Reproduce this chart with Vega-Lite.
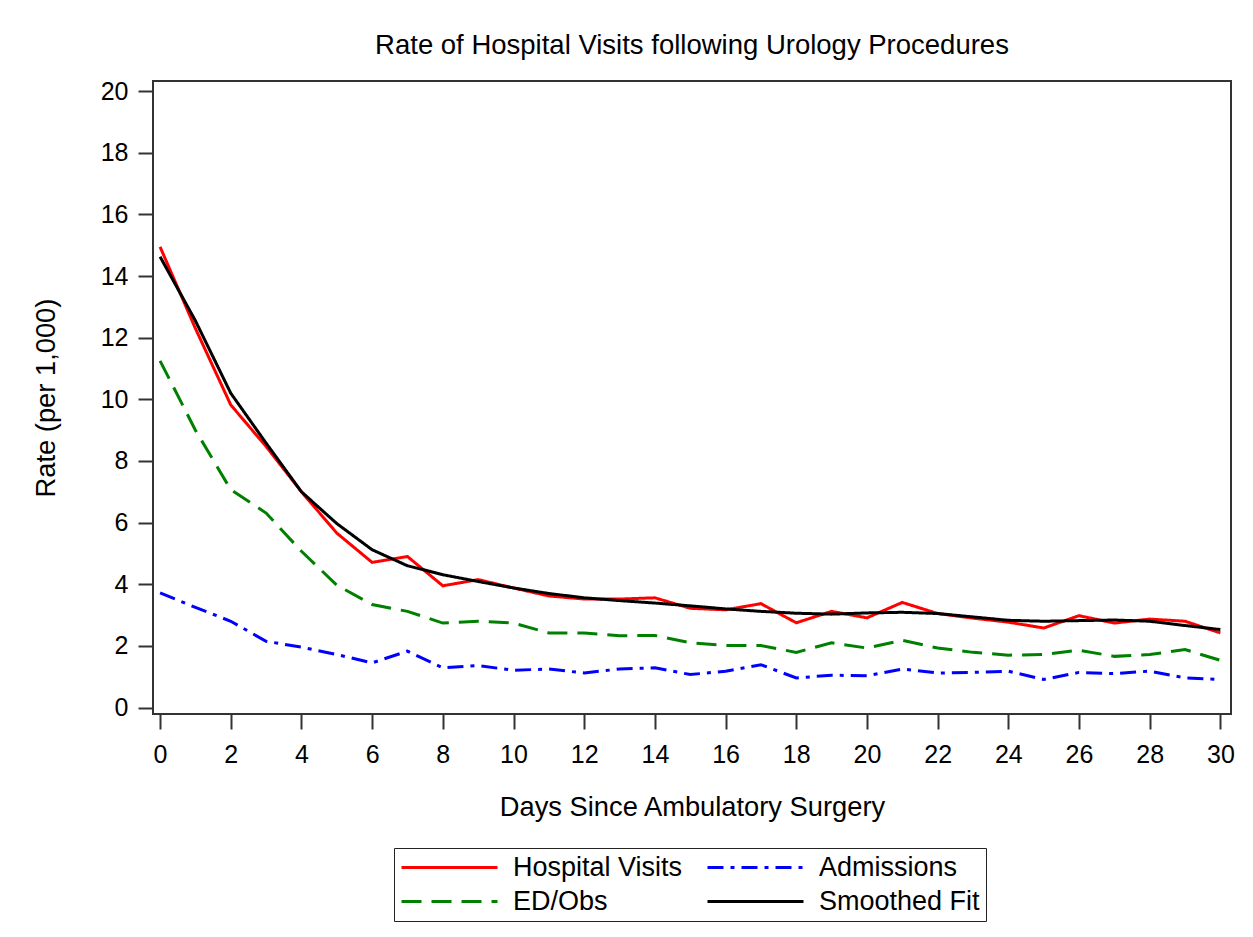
{
  "$schema": "https://vega.github.io/schema/vega-lite/v6.json",
  "width": 1078,
  "height": 633,
  "autosize": "none",
  "padding": {"left": 153, "top": 81, "right": 22, "bottom": 223},
  "background": "white",
  "title": {"text": "Rate of Hospital Visits following Urology Procedures", "fontSize": 27.5, "font": "Liberation Sans", "fontWeight": "normal", "color": "black", "offset": 20},
  "data": {"values": [
    {"day": 0, "Hospital Visits": 14.95, "ED/Obs": 11.25, "Admissions": 3.72, "Smoothed Fit": 14.63},
    {"day": 1, "Hospital Visits": 12.3, "ED/Obs": 9.0, "Admissions": 3.25, "Smoothed Fit": 12.55},
    {"day": 2, "Hospital Visits": 9.82, "ED/Obs": 7.07, "Admissions": 2.8, "Smoothed Fit": 10.2},
    {"day": 3, "Hospital Visits": 8.47, "ED/Obs": 6.31, "Admissions": 2.15, "Smoothed Fit": 8.58},
    {"day": 4, "Hospital Visits": 7.0, "ED/Obs": 5.07, "Admissions": 1.96, "Smoothed Fit": 7.0},
    {"day": 5, "Hospital Visits": 5.66, "ED/Obs": 3.97, "Admissions": 1.72, "Smoothed Fit": 5.97},
    {"day": 6, "Hospital Visits": 4.71, "ED/Obs": 3.34, "Admissions": 1.45, "Smoothed Fit": 5.12},
    {"day": 7, "Hospital Visits": 4.9, "ED/Obs": 3.12, "Admissions": 1.83, "Smoothed Fit": 4.6},
    {"day": 8, "Hospital Visits": 3.95, "ED/Obs": 2.74, "Admissions": 1.29, "Smoothed Fit": 4.31},
    {"day": 9, "Hospital Visits": 4.15, "ED/Obs": 2.8, "Admissions": 1.36, "Smoothed Fit": 4.09},
    {"day": 10, "Hospital Visits": 3.88, "ED/Obs": 2.74, "Admissions": 1.21, "Smoothed Fit": 3.88},
    {"day": 11, "Hospital Visits": 3.62, "ED/Obs": 2.42, "Admissions": 1.25, "Smoothed Fit": 3.7},
    {"day": 12, "Hospital Visits": 3.52, "ED/Obs": 2.42, "Admissions": 1.12, "Smoothed Fit": 3.56},
    {"day": 13, "Hospital Visits": 3.52, "ED/Obs": 2.33, "Admissions": 1.25, "Smoothed Fit": 3.47},
    {"day": 14, "Hospital Visits": 3.56, "ED/Obs": 2.34, "Admissions": 1.29, "Smoothed Fit": 3.39},
    {"day": 15, "Hospital Visits": 3.22, "ED/Obs": 2.1, "Admissions": 1.07, "Smoothed Fit": 3.3},
    {"day": 16, "Hospital Visits": 3.17, "ED/Obs": 2.01, "Admissions": 1.18, "Smoothed Fit": 3.2},
    {"day": 17, "Hospital Visits": 3.37, "ED/Obs": 2.01, "Admissions": 1.39, "Smoothed Fit": 3.12},
    {"day": 18, "Hospital Visits": 2.75, "ED/Obs": 1.79, "Admissions": 0.96, "Smoothed Fit": 3.06},
    {"day": 19, "Hospital Visits": 3.12, "ED/Obs": 2.1, "Admissions": 1.05, "Smoothed Fit": 3.03},
    {"day": 20, "Hospital Visits": 2.91, "ED/Obs": 1.93, "Admissions": 1.03, "Smoothed Fit": 3.07},
    {"day": 21, "Hospital Visits": 3.41, "ED/Obs": 2.18, "Admissions": 1.25, "Smoothed Fit": 3.09},
    {"day": 22, "Hospital Visits": 3.05, "ED/Obs": 1.93, "Admissions": 1.12, "Smoothed Fit": 3.05},
    {"day": 23, "Hospital Visits": 2.9, "ED/Obs": 1.79, "Admissions": 1.14, "Smoothed Fit": 2.94},
    {"day": 24, "Hospital Visits": 2.77, "ED/Obs": 1.7, "Admissions": 1.18, "Smoothed Fit": 2.83},
    {"day": 25, "Hospital Visits": 2.58, "ED/Obs": 1.72, "Admissions": 0.91, "Smoothed Fit": 2.8},
    {"day": 26, "Hospital Visits": 2.98, "ED/Obs": 1.86, "Admissions": 1.14, "Smoothed Fit": 2.82},
    {"day": 27, "Hospital Visits": 2.74, "ED/Obs": 1.66, "Admissions": 1.1, "Smoothed Fit": 2.84},
    {"day": 28, "Hospital Visits": 2.87, "ED/Obs": 1.72, "Admissions": 1.18, "Smoothed Fit": 2.8},
    {"day": 29, "Hospital Visits": 2.8, "ED/Obs": 1.88, "Admissions": 0.96, "Smoothed Fit": 2.66},
    {"day": 30, "Hospital Visits": 2.42, "ED/Obs": 1.53, "Admissions": 0.91, "Smoothed Fit": 2.53}
  ]},
  "transform": [
    {"fold": ["Hospital Visits", "ED/Obs", "Admissions", "Smoothed Fit"], "as": ["series", "rate"]}
  ],
  "mark": {"type": "line", "strokeWidth": 3},
  "encoding": {
    "x": {"field": "day", "type": "quantitative",
      "scale": {"domain": [-0.2, 30.3], "nice": false, "zero": false},
      "axis": {"values": [0,2,4,6,8,10,12,14,16,18,20,22,24,26,28,30], "title": "Days Since Ambulatory Surgery", "labelPadding": 13, "titlePadding": 26}},
    "y": {"field": "rate", "type": "quantitative",
      "scale": {"domain": [-0.21, 20.33], "nice": false, "zero": false},
      "axis": {"values": [0,2,4,6,8,10,12,14,16,18,20], "title": "Rate (per 1,000)", "labelPadding": 10, "titlePadding": 40}},
    "color": {"field": "series", "type": "nominal",
      "scale": {"domain": ["Hospital Visits", "Admissions", "ED/Obs", "Smoothed Fit"], "range": ["#ff0000", "#0000ff", "#008000", "#000000"]},
      "legend": {"title": null, "orient": "none", "legendX": 241, "legendY": 767, "columns": 2, "direction": "horizontal"}},
    "strokeDash": {"field": "series", "type": "nominal",
      "scale": {"domain": ["Hospital Visits", "Admissions", "ED/Obs", "Smoothed Fit"], "range": [[1, 0], [16, 7, 4, 7], [20, 10], [1, 0]]},
      "legend": {"title": null, "orient": "none", "legendX": 241, "legendY": 767, "columns": 2, "direction": "horizontal"}},
    "order": {"field": "day"}
  },
  "config": {
    "font": "Liberation Sans",
    "view": {"stroke": "#333333", "strokeWidth": 2},
    "axis": {
      "domain": false, "grid": false,
      "tickSize": 15, "tickWidth": 2, "tickColor": "#333333",
      "labelFont": "Liberation Sans", "labelFontSize": 25, "labelColor": "black",
      "titleFont": "Liberation Sans", "titleFontSize": 27.3, "titleFontWeight": "normal", "titleColor": "black"
    },
    "legend": {
      "symbolType": "stroke", "symbolSize": 9216, "symbolStrokeWidth": 3,
      "labelFont": "Liberation Sans", "labelFontSize": 27, "labelColor": "black", "labelOffset": 14,
      "clipHeight": 27, "columnPadding": 23, "rowPadding": 6, "padding": 6,
      "strokeColor": "#222222", "labelLimit": 400
    }
  }
}
